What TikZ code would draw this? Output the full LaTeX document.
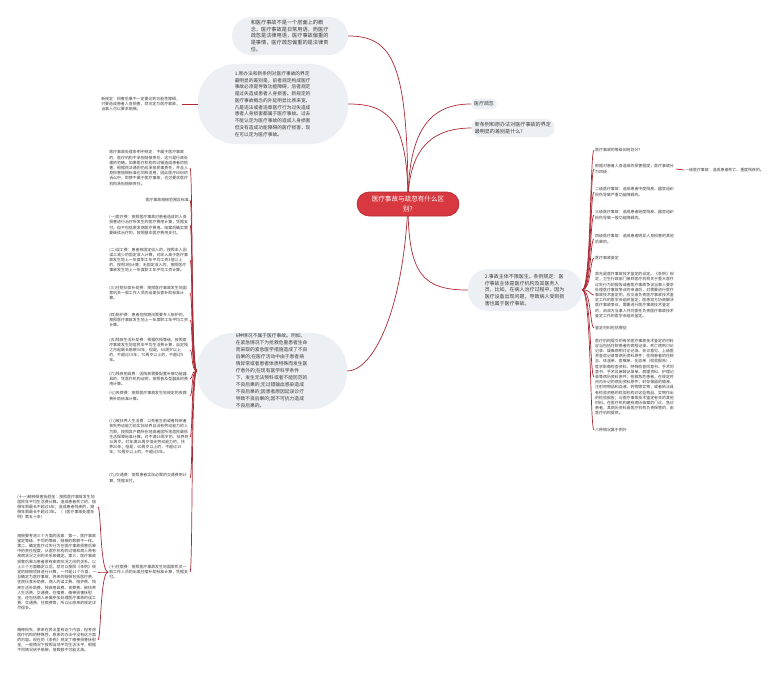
\documentclass[tikz,border=0pt]{standalone}
\usepackage{fontspec}
\setmainfont{Noto Sans CJK SC}
\XeTeXlinebreaklocale "zh"
\XeTeXlinebreakskip = 0pt plus 0.2pt
\usetikzlibrary{backgrounds}

% Colors of the map.
\definecolor{rootred}{RGB}{216,56,64}
\definecolor{linered}{RGB}{172,42,52}
\definecolor{bubblegray}{RGB}{236,239,243}
\definecolor{textgray}{RGB}{60,60,60}

\begin{document}
\begin{tikzpicture}[%
        x = 1bp,
        y = -1bp,
        line cap = round,
        root/.style = {%
            fill = rootred,
            draw = linered,
            line width = 0.6bp,
            rounded corners = 12bp,
            text = white,
            font = \fontsize{6.6}{10}\selectfont,
            align = center,
            minimum width = 102bp,
            minimum height = 24bp,
            inner sep = 1bp
        },
        bubble/.style = {fill = bubblegray, text = textgray, align = flush left, inner sep = 1bp},
        tinytext/.style = {text = textgray, font = \fontsize{3.95}{5.2}\selectfont, inner sep = 1bp},
        rleaf/.style = {tinytext, text width = 79.5bp, align = flush left, anchor = west},
        lleaf/.style = {tinytext, text width = 79.5bp, align = flush left, anchor = east},
        branch/.style = {draw = linered, line width = 0.7bp}
    ]

        % Page size.
        \path[use as bounding box] (0,0) rectangle (780,675);

        % Center node.
        \node[root] (root) at (408,204) {医疗事故与疏忽有什么区\\别?};

        % Upper branches.
        \node[bubble, minimum width = 116bp, minimum height = 38bp, rounded corners = 19bp,
              text width = 78.5bp, font = \fontsize{5.2}{7}\selectfont] (concept) at (290,36)
            {和医疗事故不是一个层面上的概念，医疗事故是日常用语，而医疗疏忽是法律用语，医疗事故偏重的是事情，医疗疏忽偏重的是法律责任。};
        \node[bubble, minimum width = 150bp, minimum height = 80bp, rounded corners = 38bp,
              text width = 76.5bp, font = \fontsize{4.75}{6.8}\selectfont] (oldnew) at (273,104)
            {1.原办法和新条例对医疗事故的界定最明显的差别是，前者规定构成医疗事故必须是导致功能障碍，后者规定是过失造成患者人身损害。新规定的医疗事故概念的外延明显比原来宽，凡是违法或者违章医疗行为过失造成患者人身损害都属于医疗事故。过去不能认定为医疗事故的造成人身损害但没有造成功能障碍的医疗损害，现在可以定为医疗事故。};
        \node[lleaf] (newrule) at (182,104)
            {新规定：损害后果不一定要达到功能性障碍，只要造成患者人身损害，就可定为医疗事故，当事人可以要求赔偿。};
        \node[bubble, rounded corners = 5bp, inner sep = 3bp, font = \fontsize{5}{7}\selectfont] (neglect) at (484,104) {医疗疏忽};
        \node[bubble, rounded corners = 8bp, inner sep = 3bp, text width = 76.5bp,
              font = \fontsize{5.1}{7.5}\selectfont] (question) at (513,128)
            {新条例和原办法对医疗事故的界定最明显的差别是什么?};

        % Right branch and its leaves.
        \node[bubble, minimum width = 114bp, minimum height = 42bp, rounded corners = 20bp,
              text width = 80.5bp, font = \fontsize{5}{6.75}\selectfont] (subject) at (525,290)
            {2.事故主体不限医生。条例规定：医疗事故主体是医疗机构及其医务人员，比如，在病人治疗过程中，因为医疗设备出现问题，导致病人受到损害也属于医疗事故。};
        \node[rleaf] (grade) at (594,150) {医疗事故的等级如何划分?};
        \node[rleaf] (fourgrades) at (594,169) {根据对患者人身造成的损害程度，医疗事故分为四级：};
        \node[tinytext, anchor = west] (gradeone) at (684,170) {一级医疗事故：造成患者死亡、重度残疾的。};
        \node[rleaf] (gradetwo) at (594,192) {二级医疗事故：造成患者中度残疾、器官组织损伤导致严重功能障碍的。};
        \node[rleaf] (gradethree) at (594,215) {三级医疗事故：造成患者轻度残疾、器官组织损伤导致一般功能障碍的。};
        \node[rleaf] (gradefour) at (594,239) {四级医疗事故：造成患者明显人身损害的其他后果的。};
        \node[rleaf] (appraise) at (594,258) {医疗事故鉴定};
        \node[rleaf] (appraisetext) at (594,295)
            {首先是医疗事故技术鉴定的设定。《条例》规定，卫生行政部门接到医疗机构关于重大医疗过失行为的报告或者医疗事故争议当事人要求处理医疗事故争议的申请后，对需要进行医疗事故技术鉴定的，应交由负责医疗事故技术鉴定工作的医学会组织鉴定；医患双方协商解决医疗事故争议，需要进行医疗事故技术鉴定的，由双方当事人共同委托负责医疗事故技术鉴定工作的医学会组织鉴定。};
        \node[rleaf] (material) at (594,328) {鉴定材料包括哪些};
        \node[rleaf] (materialtext) at (594,377)
            {医疗机构提交的有关医疗事故技术鉴定的材料应当包括住院患者的病程记录、死亡病例讨论记录、疑难病例讨论记录、会诊意见、上级医师查房记录等病历资料原件；住院患者的住院志、体温单、医嘱单、化验单（检验报告）、医学影像检查资料、特殊检查同意书、手术同意书、手术及麻醉记录单、病理资料、护理记录等病历资料原件；抢救急危患者，在规定时间内补记的病历资料原件；封存保留的输液、注射用物品和血液、药物等实物，或者依法具有检验资格的检验机构对这些物品、实物作出的检验报告；与医疗事故技术鉴定有关的其他材料。在医疗机构建有病历档案的门诊、急诊患者，其病历资料由医疗机构负责保管的，由医疗机构提供。};
        \node[rleaf] (except) at (594,430) {八种情况属于例外};

        % Lower left branch and its leaves.
        \node[bubble, minimum width = 150bp, minimum height = 73bp, rounded corners = 36bp,
              text width = 72.5bp, font = \fontsize{4.8}{7}\selectfont] (sixcases) at (272,371)
            {6种情况不属于医疗事故。例如，在紧急情况下为抢救危重患者生命而采取的紧急医学措施造成了不良后果的;在医疗活动中由于患者病情异常或者患者体质特殊而发生医疗意外的;在现有医学科学条件下，发生无法预料或者不能防范的不良后果的;无过错输血感染造成不良后果的;因患者原因延误诊疗导致不良后果的;因不可抗力造成不良后果的。};
        \node[lleaf] (civil) at (190,168)
            {医疗事故处理条例中规定：不属于医疗事故的，医疗机构不承担赔偿责任，这只是行政处理的范畴。如果医疗机构的过错造成患者的损害，根据民法通则仍应承担民事责任，并且人身损害赔偿标准也同样适用，因此医疗纠纷的诉讼中，即使不属于医疗事故，也可要求医疗机构承担赔偿责任。};
        \node[tinytext, anchor = east] (scope) at (190,200) {医疗事故赔偿范围及标准};
        \node[lleaf] (medfee) at (190,225)
            {(一)医疗费：按照医疗事故对患者造成的人身损害进行治疗所发生的医疗费用计算，凭据支付，但不包括原发病医疗费用。结案后确实需要继续治疗的，按照基本医疗费用支付。};
        \node[lleaf] (lostwork) at (190,260)
            {(二)误工费：患者有固定收入的，按照本人因误工减少的固定收入计算，对收入高于医疗事故发生地上一年度职工年平均工资3倍以上的，按照3倍计算；无固定收入的，按照医疗事故发生地上一年度职工年平均工资计算。};
        \node[lleaf] (meal) at (190,293)
            {(三)住院伙食补助费：按照医疗事故发生地国家机关一般工作人员的出差伙食补助标准计算。};
        \node[lleaf] (nursing) at (190,320)
            {(四)陪护费：患者住院期间需要专人陪护的，按照医疗事故发生地上一年度职工年平均工资计算。};
        \node[lleaf] (disability) at (190,350)
            {(五)残疾生活补助费：根据伤残等级，按照医疗事故发生地居民年平均生活费计算，自定残之月起最长赔偿30年；但是，60周岁以上的，不超过15年；70周岁以上的，不超过5年。};
        \node[lleaf] (device) at (190,379)
            {(六)残疾用具费：因残疾需要配置补偿功能器具的，凭医疗机构证明，按照普及型器具的费用计算。};
        \node[lleaf] (funeral) at (190,396)
            {(七)丧葬费：按照医疗事故发生地规定的丧葬费补助标准计算。};
        \node[lleaf] (dependant) at (190,437)
            {(八)被扶养人生活费：以死者生前或者残疾者丧失劳动能力前实际扶养且没有劳动能力的人为限，按照其户籍所在地或者居所地居民最低生活保障标准计算。对不满16周岁的，扶养到16周岁。对年满16周岁但无劳动能力的，扶养20年；但是，60周岁以上的，不超过15年；70周岁以上的，不超过5年。};
        \node[lleaf] (traffic) at (190,478)
            {(九)交通费：按照患者实际必需的交通费用计算，凭据支付。};
        \node[lleaf] (lodging) at (190,572)
            {(十)住宿费：按照医疗事故发生地国家机关一般工作人员的出差住宿补助标准计算，凭据支付。};

        % Leaves of the lodging item.
        \node[lleaf] (mental) at (98,507)
            {(十一)精神损害抚慰金：按照医疗事故发生地居民年平均生活费计算。造成患者死亡的，赔偿年限最长不超过6年；造成患者残疾的，赔偿年限最长不超过3年。（《医疗事故处理条例》第五十条）};
        \node[lleaf] (factors) at (98,572)
            {赔偿要考虑三个方面的因素：第一，医疗事故鉴定等级，不同的等级，赔偿的数额不一样。第二，确定医疗过失行为在医疗事故损害后果中的责任程度，从医疗机构的过错和病人原有疾病状况之间的关系来确定。第三，医疗事故损害后果与患者原有疾病状况之间的关系。以上三个方面确定以后，就可以按照《条例》规定的赔偿项目进行计算，一共是11个方面，一旦确定为医疗事故，将来的赔偿包括医疗费、住院伙食补助费、病人的误工费、陪护费、残疾生活补助费、残疾用具费、丧葬费、被扶养人生活费、交通费、住宿费、精神损害抚慰金，还包括病人亲属参加处理医疗事故的误工费、交通费、住宿费等，所以比原来的规定详尽得多。};
        \node[lleaf] (spirit) at (98,640)
            {精神损失，原来在民法里有这个内容，但考虑医疗机构的特殊性，原来的办法中没有这方面的内容。现在的《条例》规定了精神损害抚慰金，一般情况下按照当地平均生活水平，根据不同情况给予赔偿，但数额不可能太高。};

        % Connectors, behind the nodes.
        \begin{scope}[on background layer]
            \fill[white] (0,0) rectangle (780,675);

            \draw[branch] (root.center) .. controls +(0,-140) and +(45,0) .. (concept.east);
            \draw[branch] (root.center) .. controls +(0,-85) and +(40,0) .. (oldnew.east);
            \draw[branch] (root.center) .. controls +(0,-75) and +(-40,0) .. (neglect.west);
            \draw[branch] (root.center) .. controls +(0,-55) and +(-40,0) .. (question.west);
            \draw[branch] (root.center) .. controls +(0,70) and +(-45,0) .. (subject.west);
            \draw[branch] (root.center) .. controls +(-5,110) and +(25,0) .. (sixcases.east);
            \draw[branch] (newrule.east) -- (oldnew.west);
            \draw[branch] (fourgrades.east) -- (gradeone.west);

            \foreach \leaf in {grade, fourgrades, gradetwo, gradethree, gradefour,
                               appraise, appraisetext, material, materialtext, except}
                \draw[branch] (subject.east) .. controls +(9,0) and +(-4,0) .. (\leaf.west);

            \foreach \leaf in {civil, scope, medfee, lostwork, meal, nursing, disability,
                               device, funeral, dependant, traffic, lodging}
                \draw[branch] (sixcases.west) .. controls +(-6,0) and +(3,0) .. (\leaf.east);

            \foreach \leaf in {mental, factors, spirit}
                \draw[branch] (lodging.west) .. controls +(-8,0) and +(3,0) .. (\leaf.east);
        \end{scope}
\end{tikzpicture}
\end{document}
